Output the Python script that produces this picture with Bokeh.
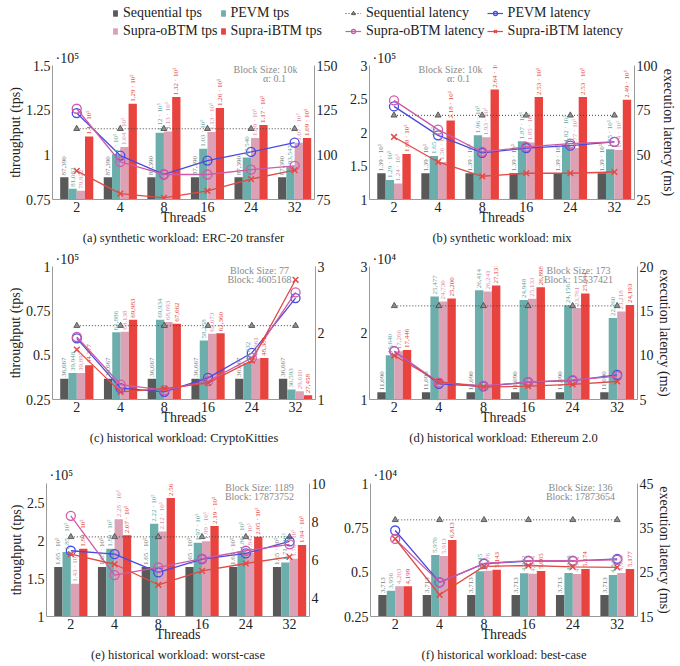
import math
from bokeh.plotting import figure
from bokeh.models import (Range1d, LinearAxis, FixedTicker, Label, LabelSet, Title,
                          ColumnDataSource, Legend, LegendItem)
from bokeh.layouts import column, row
from bokeh.embed import file_html
from bokeh.resources import INLINE
from bokeh.core.properties import value

FONT = "Liberation Serif"

threads = ["2", "4", "8", "16", "24", "32"]

# ---------------- (a) synthetic workload: ERC-20 transfer ----------------
seq_tps_a = [87390, 87390, 87390, 87390, 87390, 87390]
pevm_tps_a = [81082, 100300, 112400, 103400, 98540, 93542]
obtm_tps_a = [79922, 104400, 113100, 112800, 109400, 106800]
ibtm_tps_a = [110300, 128600, 132300, 126200, 116700, 109400]
seq_lat_a = [114.6, 114.6, 114.6, 114.6, 114.6, 114.6]
pevm_lat_a = [123.4, 99.6, 89.1, 96.8, 101.6, 106.8]
obtm_lat_a = [125.8, 96.0, 89.0, 89.0, 91.7, 93.8]
ibtm_lat_a = [91.0, 78.3, 75.9, 79.8, 86.4, 91.4]

# ---------------- (b) synthetic workload: mix ----------------
seq_tps_b = [139000, 139000, 139000, 139000, 139000, 139000]
pevm_tps_b = [129000, 165000, 196000, 187000, 182000, 175000]
obtm_tps_b = [124000, 156000, 193000, 185000, 177000, 174000]
ibtm_tps_b = [168000, 218000, 264000, 253000, 253000, 249000]
seq_lat_b = [72.1, 72.1, 72.1, 72.1, 72.1, 72.1]
pevm_lat_b = [77.1, 60.9, 51.1, 53.8, 55.1, 57.2]
obtm_lat_b = [80.5, 64.1, 51.6, 54.4, 56.3, 57.2]
ibtm_lat_b = [60.0, 46.0, 38.0, 39.7, 39.7, 40.4]

# ---------------- (c) historical workload: CryptoKitties ----------------
seq_tps_c = [36667, 36667, 36667, 36667, 36667, 36667]
pevm_tps_c = [39948, 62886, 69934, 58258, 45632, 30593]
obtm_tps_c = [39897, 63138, 68693, 62073, 48061, 29610]
ibtm_tps_c = [44377, 69983, 67662, 62360, 48381, 27458]
seq_lat_c = [2.11, 2.11, 2.11, 2.11, 2.11, 2.11]
pevm_lat_c = [1.92, 1.17, 1.115, 1.325, 1.70, 2.525]
obtm_lat_c = [1.94, 1.225, 1.14, 1.275, 1.625, 2.61]
ibtm_lat_c = [1.75, 1.115, 1.165, 1.25, 1.585, 2.80]

# ---------------- (d) historical workload: Ethereum 2.0 ----------------
seq_tps_d = [11090, 11090, 11090, 11090, 11090, 11090]
pevm_tps_d = [16640, 25477, 26414, 24948, 24156, 22260]
obtm_tps_d = [17266, 24730, 26241, 25133, 23761, 23218]
ibtm_tps_d = [17446, 25200, 27131, 26898, 25944, 24193]
seq_lat_d = [15.56, 15.56, 15.56, 15.56, 15.56, 15.56]
pevm_lat_d = [10.45, 6.77, 6.47, 6.95, 7.14, 7.78]
obtm_lat_d = [10.45, 6.9, 6.55, 6.95, 7.2, 7.63]
ibtm_lat_d = [9.96, 7.0, 6.4, 6.5, 6.7, 7.03]

# ---------------- (e) historical workload: worst-case ----------------
seq_tps_e = [165000, 165000, 165000, 165000, 165000, 165000]
pevm_tps_e = [185000, 189000, 222000, 197000, 186000, 171000]
obtm_tps_e = [143000, 228000, 212000, 199000, 184000, 176000]
ibtm_tps_e = [189000, 207000, 256000, 219000, 205000, 194000]
seq_lat_e = [7.19, 7.19, 7.19, 7.19, 7.19, 7.19]
pevm_lat_e = [6.46, 6.28, 5.32, 6.02, 6.32, 6.95]
obtm_lat_e = [8.3, 5.18, 5.58, 6.05, 6.46, 6.8]
ibtm_lat_e = [6.28, 5.75, 4.67, 5.4, 5.79, 6.14]

# ---------------- (f) historical workload: best-case ----------------
seq_tps_f = [3713, 3713, 3713, 3713, 3713, 3713]
pevm_tps_f = [3956, 5970, 5045, 4942, 4958, 4840]
obtm_tps_f = [4203, 5913, 5076, 4914, 4891, 4960]
ibtm_tps_f = [4199, 6813, 5143, 5065, 5174, 5177]
seq_lat_f = [36.8, 36.8, 36.8, 36.8, 36.8, 36.8]
pevm_lat_f = [34.4, 22.7, 26.9, 27.5, 27.5, 28.0]
obtm_lat_f = [32.5, 22.7, 27.0, 27.6, 27.6, 27.8]
ibtm_lat_f = [32.5, 19.9, 26.3, 26.5, 26.2, 26.1]

# axis ticks
yticks_a = [75000, 100000, 125000, 150000]
rticks_a = [75, 100, 125, 150]
yticks_b = [100000, 150000, 200000, 250000, 300000]
rticks_b = [25, 50, 75, 100]
yticks_c = [25000, 50000, 75000, 100000]
rticks_c = [1, 2, 3]
yticks_d = [10000, 20000, 30000]
rticks_d = [5, 10, 15, 20]
yticks_e = [100000, 150000, 200000, 250000]
rticks_e = [4, 6, 8, 10]
yticks_f = [2500, 5000, 7500, 10000]
rticks_f = [15, 25, 35, 45]

captions = ["(a) synthetic workload: ERC-20 transfer",
            "(b) synthetic workload: mix",
            "(c) historical workload: CryptoKitties",
            "(d) historical workload: Ethereum 2.0",
            "(e) historical workload: worst-case",
            "(f) historical workload: best-case"]
infos = [("Block Size: 10k", "α: 0.1"), ("Block Size: 10k", "α: 0.1"),
         ("Block Size: 77", "Block: 4605168"), ("Block Size: 173", "Block: 15537421"),
         ("Block Size: 1189", "Block: 17873752"), ("Block Size: 136", "Block: 17873654")]

series_names = ["Sequential", "PEVM", "Supra-oBTM", "Supra-iBTM"]

# styles
BAR_COLORS = ["#595959", "#6caeab", "#dda1b5", "#e8433e"]
TXT_COLORS = ["#7a7a7a", "#5fa5a2", "#d98dab", "#e5433d"]
LINE_COLORS = ["#444444", "#4a4ae0", "#cf5aa8", "#e24a44"]
OFFSETS = [-0.285, -0.095, 0.095, 0.285]
BAR_W = 0.19
X_LO, X_HI = -0.556, 5.456


def fmt_bar(v):
    if v >= 100000:
        m = f"{v / 1e5:.2f}".rstrip("0").rstrip(".")
        return m + " · 10⁵"
    return f"{v:,}"


def style_axis(ax):
    ax.axis_line_color = "#9a9a9a"
    ax.major_tick_line_color = None
    ax.minor_tick_line_color = None
    ax.major_tick_out = 0
    ax.major_tick_in = 0
    ax.minor_tick_out = 0
    ax.minor_tick_in = 0
    ax.major_label_text_font = FONT
    ax.major_label_text_font_size = "14px"
    ax.major_label_text_color = "#222222"
    ax.axis_label_text_font = FONT
    ax.axis_label_text_font_size = "14px"
    ax.axis_label_text_font_style = "normal"
    ax.axis_label_text_color = "#222222"
    ax.major_label_standoff = 2
    ax.axis_label_standoff = 0


ROWS = [dict(h=202, bt=19, bb=49, mult=0),
        dict(h=200, bt=18, bb=49, mult=0),
        dict(h=217, bt=35, bb=49, mult=1)]
COLS = [dict(w=340, bl=52, br=25), dict(w=338, bl=29, br=41)]

panel_data = [
    (seq_tps_a, pevm_tps_a, obtm_tps_a, ibtm_tps_a, seq_lat_a, pevm_lat_a, obtm_lat_a, ibtm_lat_a,
     75000, 150000, yticks_a, 1e5, 75, 150, rticks_a),
    (seq_tps_b, pevm_tps_b, obtm_tps_b, ibtm_tps_b, seq_lat_b, pevm_lat_b, obtm_lat_b, ibtm_lat_b,
     100000, 300000, yticks_b, 1e5, 25, 100, rticks_b),
    (seq_tps_c, pevm_tps_c, obtm_tps_c, ibtm_tps_c, seq_lat_c, pevm_lat_c, obtm_lat_c, ibtm_lat_c,
     25000, 100000, yticks_c, 1e5, 1, 3, rticks_c),
    (seq_tps_d, pevm_tps_d, obtm_tps_d, ibtm_tps_d, seq_lat_d, pevm_lat_d, obtm_lat_d, ibtm_lat_d,
     10000, 30000, yticks_d, 1e4, 5, 20, rticks_d),
    (seq_tps_e, pevm_tps_e, obtm_tps_e, ibtm_tps_e, seq_lat_e, pevm_lat_e, obtm_lat_e, ibtm_lat_e,
     100000, 275000, yticks_e, 1e5, 3, 10, rticks_e),
    (seq_tps_f, pevm_tps_f, obtm_tps_f, ibtm_tps_f, seq_lat_f, pevm_lat_f, obtm_lat_f, ibtm_lat_f,
     2500, 10000, yticks_f, 1e4, 15, 45, rticks_f),
]
INFO_X = [213, 81, 207, 209, 213, 210]
INFO_X2 = [222, 89, 207, 209, 213, 210]


def build_panel(idx):
    (s0, s1, s2, s3, l0, l1, l2, l3, ylo, yhi, yt, scale, rlo, rhi, rt) = panel_data[idx]
    ri, ci = idx // 2, idx % 2
    g, c = ROWS[ri], dict(COLS[ci])
    if idx == 4:
        c["bl"], c["br"] = 46, 31
    fh = g["h"] - g["bt"] - g["bb"]
    p = figure(width=c["w"], height=g["h"], output_backend="svg", toolbar_location=None,
               x_range=Range1d(X_LO, X_HI), y_range=Range1d(ylo, yhi),
               min_border_left=c["bl"], min_border_right=c["br"],
               min_border_top=g["bt"], min_border_bottom=g["bb"])
    p.outline_line_color = None
    p.grid.visible = False
    p.extra_y_ranges = {"lat": Range1d(rlo, rhi)}
    rax = LinearAxis(y_range_name="lat")
    p.add_layout(rax, "right")

    xs = list(range(len(threads)))
    xax = p.below[0]
    style_axis(xax)
    xax.ticker = FixedTicker(ticks=xs)
    xax.major_label_overrides = {i: t for i, t in zip(xs, threads)}
    xax.axis_label = "Threads"
    xax.axis_label_standoff = -5

    lax = p.left[0]
    style_axis(lax)
    lax.ticker = FixedTicker(ticks=yt)
    lax.major_label_overrides = {t: f"{t / scale:g}" for t in yt}
    style_axis(rax)
    rax.ticker = FixedTicker(ticks=rt)
    if ci == 0:
        lax.axis_label = "throughput (tps)"
    else:
        rax.axis_label = "execution latency (ms)"

    for k, vals in enumerate([s0, s1, s2, s3]):
        bx = [i + OFFSETS[k] for i in xs]
        src = ColumnDataSource(dict(x=bx, top=vals, lab=[fmt_bar(v) for v in vals]))
        p.vbar(x="x", top="top", bottom=ylo, width=BAR_W, source=src,
               fill_color=BAR_COLORS[k], line_color=None)
        p.add_layout(LabelSet(x="x", y="top", text="lab", source=src, angle=math.pi / 2,
                              text_align="left", text_baseline="middle", y_offset=2,
                              text_font=value(FONT), text_font_size="7px",
                              text_color=TXT_COLORS[k]))

    # latency lines
    p.line(xs, l0, y_range_name="lat", line_color=LINE_COLORS[0], line_width=1, line_dash="1 2")
    p.scatter(xs, l0, y_range_name="lat", marker="triangle", size=6,
              fill_color="#8f8f8f", line_color="#444444", line_width=0.8)
    p.line(xs, l1, y_range_name="lat", line_color=LINE_COLORS[1], line_width=1.3)
    p.scatter(xs, l1, y_range_name="lat", marker="circle", size=9, fill_color=None,
              line_color=LINE_COLORS[1], line_width=1.3)
    p.line(xs, l2, y_range_name="lat", line_color=LINE_COLORS[2], line_width=1.3)
    p.scatter(xs, l2, y_range_name="lat", marker="circle", size=9, fill_color=None,
              line_color=LINE_COLORS[2], line_width=1.3)
    p.line(xs, l3, y_range_name="lat", line_color=LINE_COLORS[3], line_width=1.3)
    p.scatter(xs, l3, y_range_name="lat", marker="x", size=8,
              line_color=LINE_COLORS[3], line_width=1.5)

    # block information
    t1, t2 = infos[idx]
    p.add_layout(Label(x=INFO_X[idx], y=fh - 4, x_units="screen", y_units="screen", text=t1,
                       text_align="center", text_baseline="middle", text_font=FONT,
                       text_font_size="10px", text_color="#8a8a8a"))
    p.add_layout(Label(x=INFO_X2[idx], y=fh - 12.5, x_units="screen", y_units="screen", text=t2,
                       text_align="center", text_baseline="middle", text_font=FONT,
                       text_font_size="10px", text_color="#8a8a8a"))
    # multiplier above the left axis
    mult = "·10⁵" if scale == 1e5 else "·10⁴"
    p.add_layout(Title(text=mult, align="left", offset=3, standoff=g["mult"],
                       text_font=FONT, text_font_size="14px", text_font_style="normal",
                       text_color="#222222"), "above")
    # caption
    p.add_layout(Title(text=captions[idx], align="center", standoff=2,
                       text_font=FONT, text_font_size="12.5px", text_font_style="normal",
                       text_color="#222222"), "below")
    return p


# legend figure (legend-only renderers use panel (a) data, kept outside the visible range)
lf = figure(width=678, height=46, output_backend="svg", toolbar_location=None,
            x_range=Range1d(-3, -2), y_range=Range1d(0, 1), x_axis_type=None, y_axis_type=None,
            min_border=0)
lf.outline_line_color = None
xs0 = list(range(len(threads)))
tps_a = [seq_tps_a, pevm_tps_a, obtm_tps_a, ibtm_tps_a]
lat_a = [seq_lat_a, pevm_lat_a, obtm_lat_a, ibtm_lat_a]
bar_items = []
for k, nm in enumerate(series_names):
    r = lf.vbar(x=xs0, top=tps_a[k], width=BAR_W, fill_color=BAR_COLORS[k], line_color=None)
    bar_items.append(LegendItem(label=nm + " tps", renderers=[r]))
lat_items = []
for k, nm in enumerate(series_names):
    lr = lf.line(x=xs0, y=lat_a[k], line_color=LINE_COLORS[k], line_width=1.2,
                 line_dash="1 2" if k == 0 else "solid")
    if k == 0:
        mr = lf.scatter(x=xs0, y=lat_a[k], marker="triangle", size=6, fill_color="#8f8f8f",
                        line_color="#444444", line_width=0.8)
    elif k == 3:
        mr = lf.scatter(x=xs0, y=lat_a[k], marker="x", size=8, line_color=LINE_COLORS[k],
                        line_width=1.5)
    else:
        mr = lf.scatter(x=xs0, y=lat_a[k], marker="circle", size=9, fill_color=None,
                        line_color=LINE_COLORS[k], line_width=1.3)
    lat_items.append(LegendItem(label=nm + " latency", renderers=[lr, mr]))


def make_legend(items, x, gw, gh):
    return Legend(items=items, ncols=2, orientation="horizontal", location=(x, 7),
                  label_text_font=FONT, label_text_font_size="14px", label_text_color="#222222",
                  border_line_color=None, background_fill_alpha=0, padding=0, margin=0,
                  spacing=2, label_standoff=5, glyph_width=gw, glyph_height=gh, label_height=16)


lf.add_layout(make_legend(bar_items, 112, 6, 8), "center")
lf.add_layout(make_legend(lat_items, 345, 16, 10), "center")

panels = [build_panel(i) for i in range(6)]
layout = column(lf, row(panels[0], panels[1]), row(panels[2], panels[3]),
                row(panels[4], panels[5]))

open("out.html", "w").write(file_html(layout, INLINE))
